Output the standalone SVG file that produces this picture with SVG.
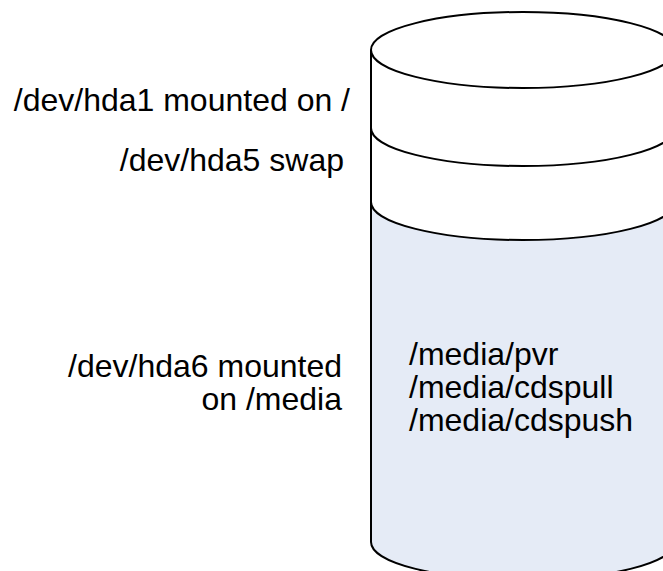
<svg xmlns="http://www.w3.org/2000/svg" width="663" height="571" viewBox="0 0 663 571">
  <style>
    .edge { fill: none; stroke: #000; stroke-width: 2; }
    .label { font-family: "Liberation Sans", Arial, sans-serif; font-size: 32px; fill: #000; }
    .right { text-anchor: end; }
  </style>
  <rect width="663" height="571" fill="#fff"/>
  <g id="disk">
    <!-- media partition fill -->
    <path d="M371,202 A152,38 0 0 0 675,202 L675,542 A152,38 0 0 1 371,542 Z" fill="#E5EBF6"/>
    <!-- cylinder body -->
    <path class="edge" d="M371,50 L371,542 A152,38 0 0 0 675,542 L675,50"/>
    <ellipse class="edge" cx="523" cy="50" rx="152" ry="38" fill="#fff"/>
    <!-- partition boundaries -->
    <path class="edge" d="M371,128 A152,38 0 0 0 675,128"/>
    <path class="edge" d="M371,202 A152,38 0 0 0 675,202"/>
  </g>
  <g id="hda1">
    <text class="label right" x="350" y="111">/dev/hda1 mounted on /</text>
  </g>
  <g id="hda5">
    <text class="label right" x="344" y="171">/dev/hda5 swap</text>
  </g>
  <g id="hda6">
    <text class="label right" x="342" y="377">/dev/hda6 mounted</text>
    <text class="label right" x="342" y="410">on /media</text>
  </g>
  <g id="media-dirs">
    <text class="label" x="409" y="365">/media/pvr</text>
    <text class="label" x="409" y="398">/media/cdspull</text>
    <text class="label" x="409" y="431">/media/cdspush</text>
  </g>
</svg>
